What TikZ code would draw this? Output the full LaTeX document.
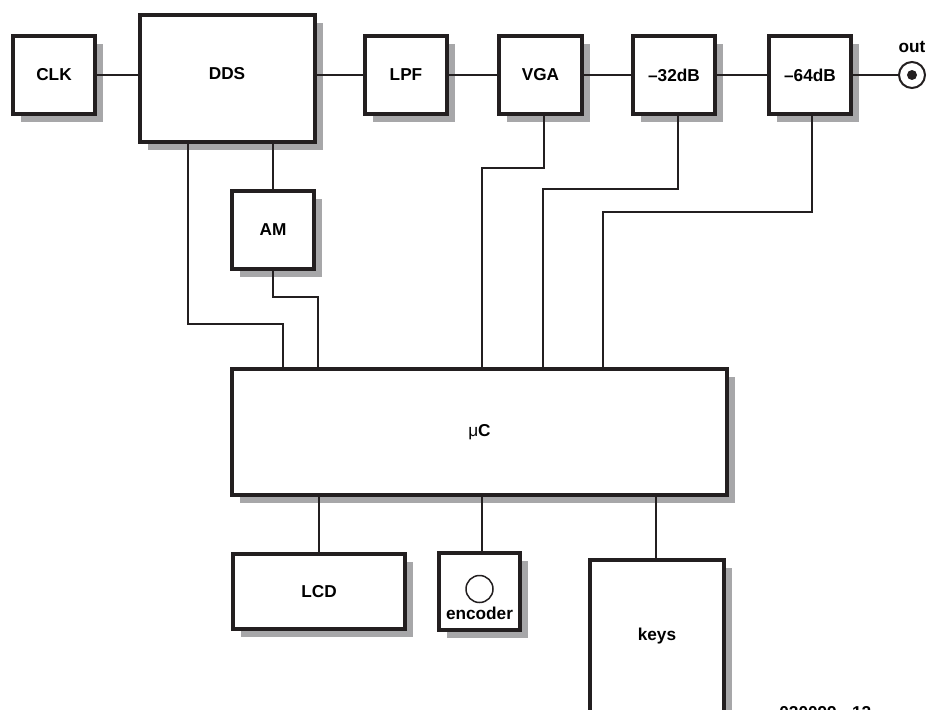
\documentclass[tikz,border=0pt]{standalone}
\usepackage{fontspec}
\setmainfont{Liberation Sans}
\usepackage{tikz}
\usetikzlibrary{positioning,calc,shadows}
\definecolor{ink}{RGB}{35,31,32}
\definecolor{shadowgray}{RGB}{167,167,169}

\begin{document}
\begin{tikzpicture}[x=0.02cm,y=-0.02cm,font=\fontsize{9.8}{11}\selectfont\bfseries]
  % signal generator block diagram
  \tikzset{block/.style={draw=ink,line width=0.08cm,fill=white,inner sep=0pt,
      drop shadow={shadow xshift=0.16cm,shadow yshift=-0.16cm,fill=shadowgray,opacity=1}},
    wire/.style={draw=ink,line width=0.03cm}}
  \useasboundingbox (0,0) rectangle (927,710);

  % signal chain
  \node[block,minimum width=1.64cm,minimum height=1.56cm] (clk) at (54,75) {CLK};
  \node[block,minimum width=3.50cm,minimum height=2.54cm] (dds) at (227.5,78.5) {};
  \node (ddslbl) at (227,74) {DDS};
  \node[block,minimum width=1.64cm,minimum height=1.56cm] (lpf) at (406,75) {LPF};
  \node[block,minimum width=1.66cm,minimum height=1.56cm] (vga) at (540.5,75) {VGA};
  \node[block,minimum width=1.64cm,minimum height=1.56cm] (att32) at (674,75) {\textendash32dB};
  \node[block,minimum width=1.64cm,minimum height=1.56cm] (att64) at (810,75) {\textendash64dB};
  \node[draw=ink,circle,line width=0.04cm,minimum size=0.52cm,inner sep=0pt] (out) at (912,75) {};
  \fill[ink] (out.center) circle (0.1cm);
  \node[above=0.05cm of out] (outlbl) {out};

  \node[block,minimum width=1.64cm,minimum height=1.56cm] (am) at (273,230) {AM};

  % controller and user interface
  \node[block,minimum width=9.90cm,minimum height=2.52cm] (uc) at (479.5,432) {{\mdseries μ}C};
  \node[block,minimum width=3.44cm,minimum height=1.50cm] (lcd) at (319,591.5) {LCD};
  \node[block,minimum width=1.62cm,minimum height=1.54cm] (enc) at (479.5,591.5) {};
  \node[draw=ink,circle,line width=0.03cm,minimum size=0.54cm,inner sep=0pt] (knob) at (479.5,589) {};
  \node (enclbl) at (479.5,613) {encoder};
  \node[block,minimum width=2.68cm,minimum height=3.04cm] (keys) at (657,636) {keys};
  \node[anchor=base west,inner sep=0pt] (figno) at (779,718) {020099 - 12};

  % connections
  \draw[wire] (clk.east) -- (clk.east -| dds.west);
  \draw[wire] (dds.east |- lpf.west) -- (lpf.west);
  \draw[wire] (lpf.east) -- (vga.west);
  \draw[wire] (vga.east) -- (att32.west);
  \draw[wire] (att32.east) -- (att64.west);
  \draw[wire] (att64.east) -- (out.west);

  \draw[wire] (am.north |- dds.south) -- (am.north);
  \draw[wire] (188,0 |- dds.south) |- (283,324) -- (283,0 |- uc.north);
  \draw[wire] (am.south) |- (318,297) -- (318,0 |- uc.north);
  \draw[wire] (544,0 |- vga.south) |- (482,168) -- (482,0 |- uc.north);
  \draw[wire] (678,0 |- att32.south) |- (543,189) -- (543,0 |- uc.north);
  \draw[wire] (812,0 |- att64.south) |- (603,212) -- (603,0 |- uc.north);

  \draw[wire] (lcd.north |- uc.south) -- (lcd.north);
  \draw[wire] (482,0 |- uc.south) -- (482,0 |- enc.north);
  \draw[wire] (656,0 |- uc.south) -- (656,0 |- keys.north);
\end{tikzpicture}
\end{document}
